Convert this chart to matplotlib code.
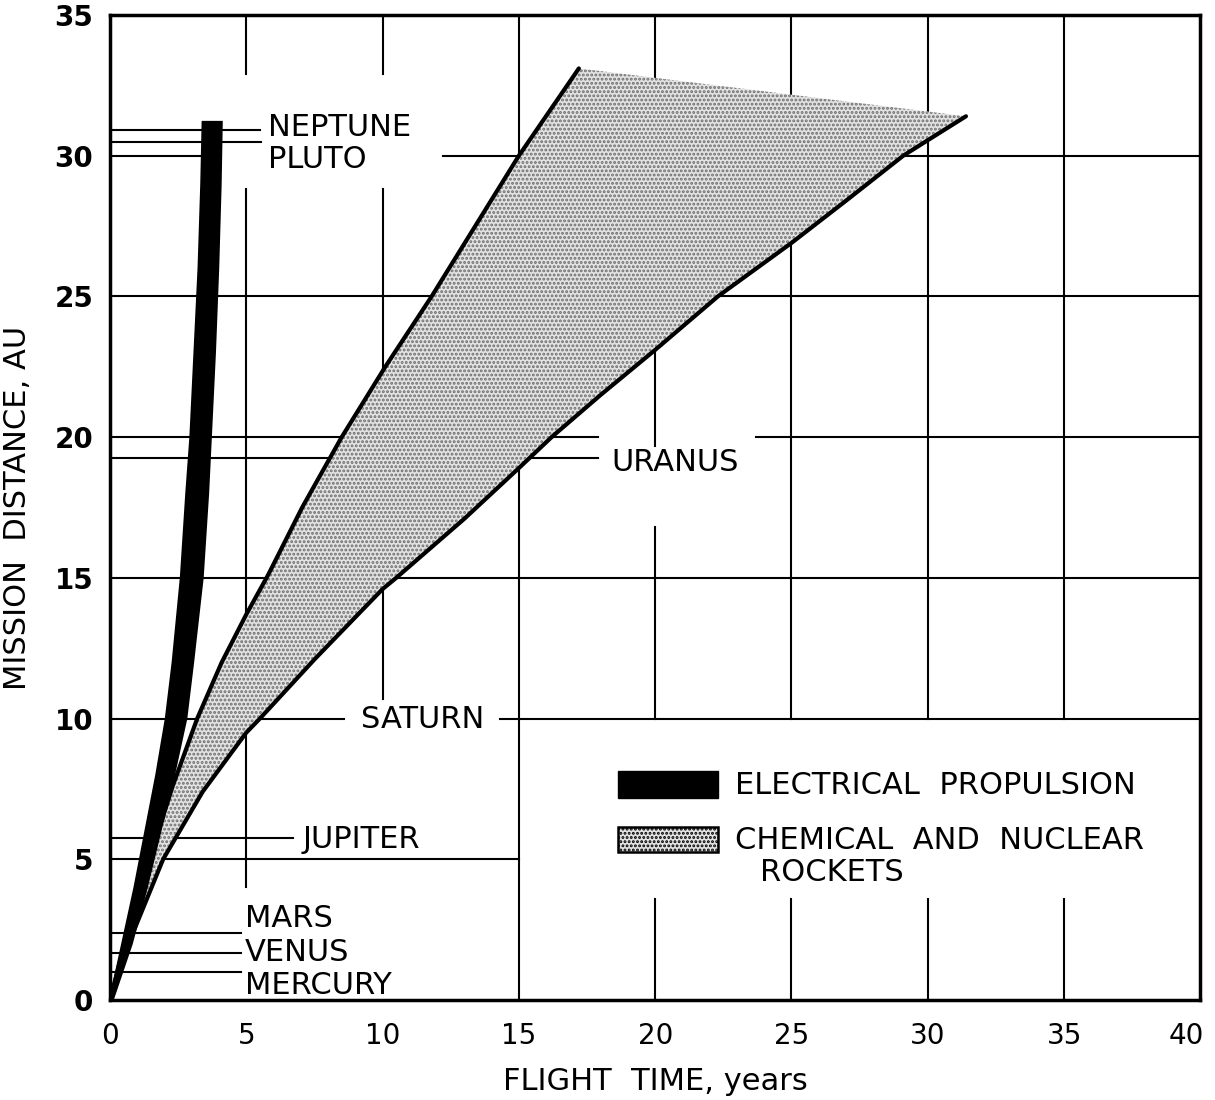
import numpy as np
import matplotlib
matplotlib.use("Agg")
import matplotlib.pyplot as plt
import matplotlib.transforms as mtransforms
from matplotlib.patches import Rectangle

plt.rcParams['font.family'] = ['DejaVu Sans']
plt.rcParams['hatch.linewidth'] = 1.4

# electrical propulsion band (x edges at given distance)
elec_y = [0, 2, 4, 6, 8, 10, 12, 15, 18, 20, 23, 26, 29, 31.2]
elec_left = [0, 0.45, 0.9, 1.3, 1.7, 2.05, 2.3, 2.6, 2.8, 2.95, 3.1, 3.25, 3.35, 3.4]
elec_right = [0.1, 0.8, 1.35, 1.85, 2.35, 2.8, 3.05, 3.4, 3.6, 3.7, 3.85, 3.97, 4.06, 4.1]

# chemical and nuclear rockets band
chem_up_x = [0, 0.7, 1.45, 2.3, 3.2, 4.1, 5.0, 5.8, 7.05, 8.5, 10.1, 11.8, 13.4, 15.0, 17.2]
chem_up_y = [0, 2.6, 5, 7.6, 10, 12.0, 13.7, 15.1, 17.5, 20, 22.5, 25, 27.5, 30, 33.1]
chem_lo_x = [0, 0.85, 1.95, 3.4, 5.0, 5.5, 7.5, 10.0, 10.5, 13.0, 15.0, 16.2, 18.0, 20.0, 22.3, 25.0, 27.0, 29.1, 30.0, 31.4]
chem_lo_y = [0, 2.4, 5, 7.4, 9.5, 10, 12.1, 14.6, 15, 17.1, 18.9, 20, 21.5, 23.1, 25, 26.9, 28.4, 30, 30.55, 31.4]

# planets: label, distance of reference line
planets = ['MERCURY', 'VENUS', 'MARS', 'JUPITER', 'URANUS', 'PLUTO', 'NEPTUNE']
planet_dist = [1.0, 1.67, 2.38, 5.75, 19.25, 30.5, 30.9]
line_end = [4.8, 4.8, 4.8, 6.7, 17.9, 5.55, 5.5]

xticks = [0, 5, 10, 15, 20, 25, 30, 35, 40]
yticks = [0, 5, 10, 15, 20, 25, 30, 35]
xtick_labels = ['0', '5', '10', '15', '20', '25', '30', '35', '40']
ytick_labels = ['0', '5', '10', '15', '20', '25', '30', '35']

# grid drawn in pieces, leaving room for labels and legend
hgrid = {5: [(0, 15)], 10: [(0, 8.6), (14.3, 40)], 15: [(0, 40)],
         20: [(0, 17.9), (23.7, 40)], 25: [(0, 40)], 30: [(0, 3.5), (12.2, 40)]}
vgrid = {5: [(4.0, 28.8), (32.9, 35)], 10: [(10.7, 28.8), (32.9, 35)], 15: [(0, 35)],
         20: [(0, 3.6), (10, 16.8), (19.7, 35)], 25: [(0, 3.6), (10, 35)],
         30: [(0, 3.6), (10, 35)], 35: [(0, 3.6), (10, 35)]}

fig = plt.figure(figsize=(12.15, 11), dpi=100)
ax = fig.add_axes([0.0905, 0.0909, 0.8975, 0.8955])
ax.set_xlim(0, 40)
ax.set_ylim(0, 35)

for y, segs in hgrid.items():
    for a, b in segs:
        ax.plot([a, b], [y, y], color='black', lw=1.5, zorder=1)
for x, segs in vgrid.items():
    for a, b in segs:
        ax.plot([x, x], [a, b], color='black', lw=1.5, zorder=1)

for name, d, e in zip(planets, planet_dist, line_end):
    ax.plot([0, e], [d, d], color='black', lw=1.5, zorder=1)

# chemical band
poly_x = chem_up_x + chem_lo_x[::-1]
poly_y = chem_up_y + chem_lo_y[::-1]
ax.fill(poly_x, poly_y, facecolor='#e2e2e2', edgecolor='#6e6e6e', hatch='....', lw=0, zorder=2)
ax.plot(chem_up_x, chem_up_y, color='black', lw=3, zorder=4, solid_capstyle='round')
ax.plot(chem_lo_x, chem_lo_y, color='black', lw=3, zorder=4, solid_capstyle='round')

# electrical band
ax.fill(elec_left + elec_right[::-1], elec_y + elec_y[::-1], color='black', lw=1.5, zorder=5)

fs = 22
ax.text(5.8, 31.0, 'NEPTUNE', fontsize=fs, va='center', ha='left')
ax.text(5.8, 29.85, 'PLUTO', fontsize=fs, va='center', ha='left')
ax.text(18.4, 19.1, 'URANUS', fontsize=fs, va='center', ha='left')
ax.text(9.2, 9.95, 'SATURN', fontsize=fs, va='center', ha='left')
ax.text(7.05, 5.7, 'JUPITER', fontsize=fs, va='center', ha='left')
ax.text(4.95, 2.9, 'MARS', fontsize=fs, va='center', ha='left')
ax.text(4.95, 1.7, 'VENUS', fontsize=fs, va='center', ha='left')
ax.text(4.95, 0.5, 'MERCURY', fontsize=fs, va='center', ha='left')

# legend
ax.add_patch(Rectangle((0.466, 0.205), 0.092, 0.027, transform=ax.transAxes,
                       facecolor='black', edgecolor='black', zorder=6))
ax.add_patch(Rectangle((0.466, 0.150), 0.092, 0.026, transform=ax.transAxes,
                       facecolor='#e2e2e2', edgecolor='black', hatch='....', lw=1.8, zorder=6))
ax.text(0.573, 0.218, 'ELECTRICAL  PROPULSION', transform=ax.transAxes, fontsize=fs, va='center')
ax.text(0.573, 0.162, 'CHEMICAL  AND  NUCLEAR', transform=ax.transAxes, fontsize=fs, va='center')
ax.text(0.596, 0.129, 'ROCKETS', transform=ax.transAxes, fontsize=fs, va='center')

ax.set_xticks(xticks)
ax.set_xticklabels(xtick_labels, fontsize=20)
ax.set_yticks(yticks)
ax.set_yticklabels(ytick_labels, fontsize=20, fontweight='bold')
ax.tick_params(axis='x', length=0, pad=16)
ax.tick_params(axis='y', length=0, pad=12)
for s in ax.spines.values():
    s.set_linewidth(2.5)

# keep the last x label inside the figure
last = ax.get_xticklabels()[-1]
last.set_transform(last.get_transform() + mtransforms.ScaledTranslation(-10 / 72, 0, fig.dpi_scale_trans))

ax.set_xlabel('FLIGHT  TIME, years', fontsize=22, labelpad=12)
ax.set_ylabel('MISSION  DISTANCE, AU', fontsize=22, labelpad=16)

fig.savefig('out.png', dpi=100)
